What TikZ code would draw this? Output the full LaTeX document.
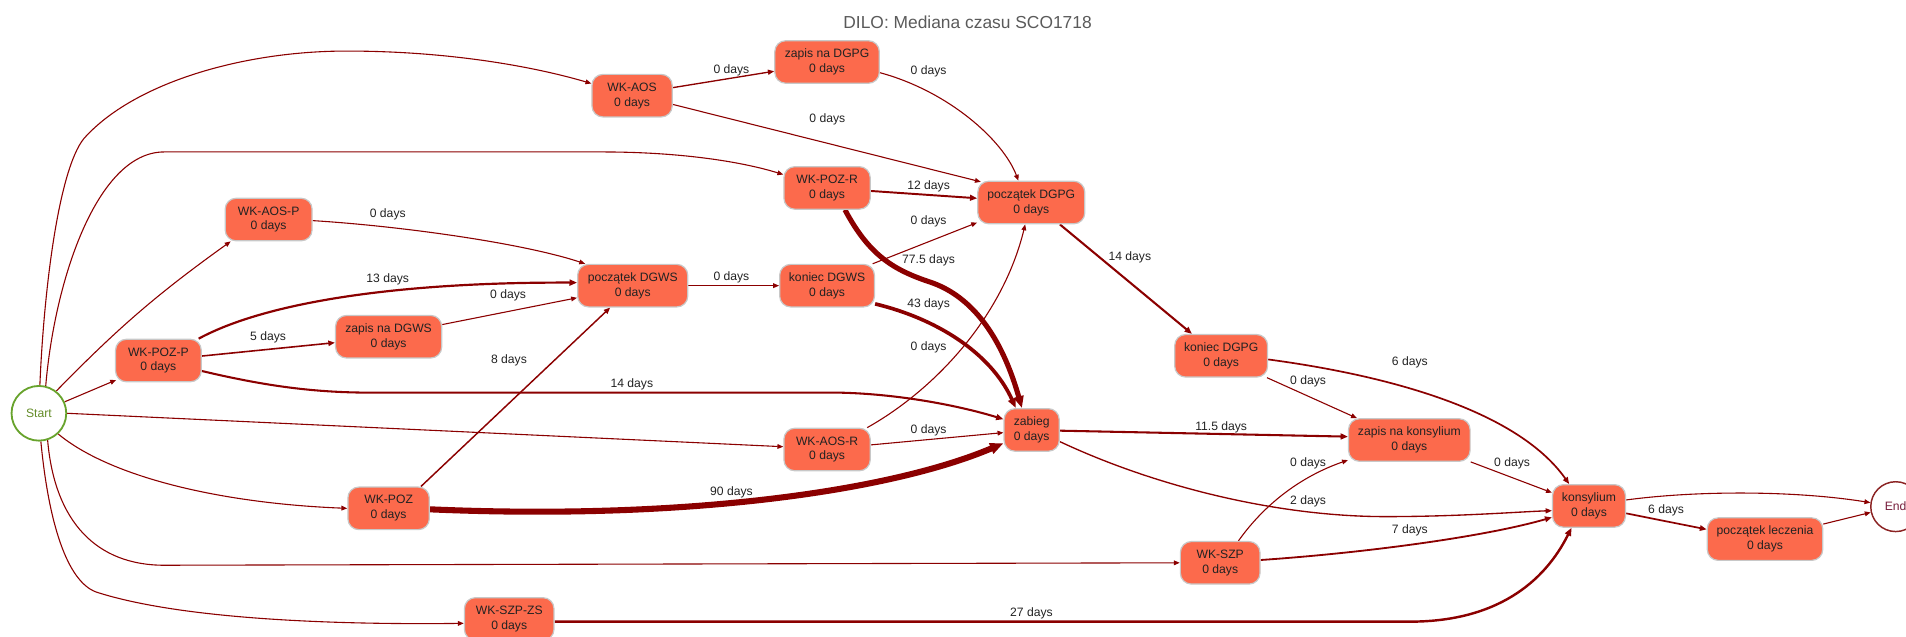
\documentclass[tikz,border=0pt]{standalone}
\usepackage{fontspec}
\setmainfont{Liberation Sans}
\usetikzlibrary{arrows.meta,calc,backgrounds}
\definecolor{nodefill}{RGB}{252,106,76}
\definecolor{nodeborder}{RGB}{200,200,200}
\definecolor{nodetext}{RGB}{34,34,34}
\definecolor{edgecol}{RGB}{139,0,0}
\definecolor{startgreen}{RGB}{104,163,45}
\definecolor{starttext}{RGB}{100,140,40}
\definecolor{endred}{RGB}{139,35,35}
\definecolor{endtext}{RGB}{120,30,60}
\definecolor{titlegray}{RGB}{90,90,90}
\newcommand\nf{\fontsize{10}{12.3}\selectfont}
\begin{document}
\begin{tikzpicture}[x=1pt,y=-1pt,
  proc/.style={rectangle, rounded corners=9pt, fill=nodefill, draw=nodeborder, line width=1pt, minimum height=35pt, inner sep=0pt, align=center, font=\nf, text=nodetext},
  evt/.style={circle, fill=white, inner sep=0pt, font=\nf},
  lbl/.style={font=\nf, text=nodetext, inner sep=1pt},
  edg/.style={draw=edgecol, line width=#1, -{Triangle[length=3.5pt 1.5, width=2.8pt 1.2]}},
]
\useasboundingbox (0,0) rectangle (1568,524);

\node[font=\fontsize{14.3}{16}\selectfont, text=titlegray] (title) at (796,18.5) {DILO: Mediana czasu SCO1718};

\node[proc, minimum width=66pt] (wkaos) at (520,78.7) {WK-AOS\\0 days};
\node[proc, minimum width=86pt] (zdgpg) at (680.4,51) {zapis na DGPG\\0 days};
\node[proc, minimum width=71pt] (wkpozr) at (680.4,154.6) {WK-POZ-R\\0 days};
\node[proc, minimum width=88pt] (pdgpg) at (848.4,166.6) {początek DGPG\\0 days};
\node[proc, minimum width=71.5pt] (wkaosp) at (221,180.6) {WK-AOS-P\\0 days};
\node[proc, minimum width=90.6pt] (pdgws) at (520.5,235) {początek DGWS\\0 days};
\node[proc, minimum width=78pt] (kdgws) at (680.4,235) {koniec DGWS\\0 days};
\node[proc, minimum width=70.5pt] (wkpozp) at (130.3,296.6) {WK-POZ-P\\0 days};
\node[proc, minimum width=87.3pt] (zdgws) at (319.7,277) {zapis na DGWS\\0 days};
\node[proc, minimum width=76.4pt] (kdgpg) at (1004.6,292.7) {koniec DGPG\\0 days};
\node[proc, minimum width=45.4pt] (zabieg) at (848.7,353.7) {zabieg\\0 days};
\node[proc, minimum width=71pt] (wkaosr) at (680.4,369.8) {WK-AOS-R\\0 days};
\node[proc, minimum width=100pt] (zkons) at (1159.4,362) {zapis na konsylium\\0 days};
\node[proc, minimum width=60pt] (kons) at (1307.2,416.2) {konsylium\\0 days};
\node[proc, minimum width=67pt] (wkpoz) at (319.7,418.2) {WK-POZ\\0 days};
\node[proc, minimum width=65.5pt] (wkszp) at (1003.8,463) {WK-SZP\\0 days};
\node[proc, minimum width=95pt] (plecz) at (1452,443.5) {początek leczenia\\0 days};
\node[proc, minimum width=73.7pt] (wkszpzs) at (418.9,509.2) {WK-SZP-ZS\\0 days};
\node[evt, draw=startgreen, line width=1.5pt, minimum size=45pt, text=starttext] (start) at (32,340) {Start};
\node[evt, draw=endred, line width=1.2pt, minimum size=41pt, text=endtext] (end) at (1559.5,416.8) {End};

\begin{scope}[on background layer]
\draw[edg=0.9pt] (start.88) .. controls (36,240) and (48,140) .. (69,114) .. controls (110,68) and (200,42) .. (285,42) .. controls (370,42) and (440,55) .. ($(wkaos.west)+(0,-10)$);
\draw[edg=0.9pt] (start.76) .. controls (45,230) and (80,125) .. (135,125) -- (495,125) .. controls (560,125) and (610,133) .. ($(wkpozr.west)+(0,-11)$);
\draw[edg=0.9pt] (start.52) to[bend left=5] ($(wkaosp.south west)+(5,0)$);
\draw[edg=0.9pt] (start.24) -- ($(wkpozp.south west)+(1,-2)$);
\draw[edg=0.9pt] (start.east) -- ($(wkaosr.west)+(0,-2.3)$);
\draw[edg=0.9pt] (start.-47) .. controls (90,392) and (180,414) .. (wkpoz.west);
\draw[edg=0.9pt] (start.-72) .. controls (45,430) and (80,465) .. (135,465) -- (wkszp.west);
\draw[edg=0.9pt] (start.-86) .. controls (40,430) and (55,478) .. (79,487) .. controls (150,510) and (280,514) .. ($(wkszpzs.west)+(0,3.6)$);

\draw[edg=1.1pt] ($(wkaos.east)+(0,-6.6)$) -- ($(zdgpg.west)+(0,7.6)$);
\draw[edg=0.9pt] ($(wkaos.east)+(0,7.2)$) -- ($(pdgpg.north west)+(3,1)$);
\draw[edg=0.9pt] ($(zdgpg.east)+(0,8.8)$) .. controls (780,75) and (825,115) .. ($(pdgpg.north)+(-10.6,0)$);
\draw[edg=1.6pt] ($(wkpozr.east)+(0,2.5)$) -- ($(pdgpg.west)+(0,-3.5)$);
\draw[edg=4.2pt] ($(wkpozr.south)+(14.7,0)$) .. controls (715,210) and (735,222) .. (765,232) .. controls (795,242) and (822,270) .. ($(zabieg.north)+(-8,0)$);
\draw[edg=0.9pt] ($(wkaosp.east)+(0,0.9)$) .. controls (330,186) and (430,200) .. ($(pdgws.north west)+(6.7,0)$);
\draw[edg=1.8pt] ($(wkpozp.north east)+(-2.6,0)$) .. controls (220,248) and (330,232) .. ($(pdgws.west)+(0,-2.5)$);
\draw[edg=1.3pt] ($(wkpozp.east)+(0,-3.7)$) -- ($(zdgws.west)+(0,4.9)$);
\draw[edg=1.7pt] ($(wkpozp.east)+(0,8.6)$) .. controls (220,318) and (260,323) .. (305,323) -- (690,323) .. controls (740,324) and (790,334) .. ($(zabieg.west)+(0,-8.8)$);
\draw[edg=0.9pt] ($(zdgws.east)+(0,-10)$) -- ($(pdgws.west)+(0,10)$);
\draw[edg=1.2pt] ($(wkpoz.north east)+(-7.4,0)$) -- ($(pdgws.south)+(-18.5,0)$);
\draw[edg=5pt] ($(wkpoz.east)+(0,0.8)$) .. controls (560,428) and (730,405) .. ($(zabieg.west)+(0,11)$);
\draw[edg=0.9pt] (pdgws.east) -- (kdgws.west);
\draw[edg=0.9pt] ($(kdgws.north east)+(-2,0)$) -- ($(pdgpg.south west)+(0,-1.5)$);
\draw[edg=3pt] ($(kdgws.south east)+(0,-3)$) .. controls (770,262) and (815,290) .. ($(zabieg.north)+(-13,0)$);
\draw[edg=0.9pt] ($(wkaosr.north east)+(-3,0)$) .. controls (770,320) and (825,260) .. ($(pdgpg.south)+(-5,0)$);
\draw[edg=0.9pt] ($(wkaosr.east)+(0,-3.8)$) -- ($(zabieg.west)+(0,2.2)$);
\draw[edg=1.7pt] ($(pdgpg.south east)+(-21,0)$) -- ($(kdgpg.north)+(-24,0)$);
\draw[edg=0.9pt] ($(kdgpg.south east)+(-1,0)$) -- ($(zkons.north west)+(7.4,0)$);
\draw[edg=1.4pt] ($(kdgpg.east)+(0,3)$) .. controls (1150,310) and (1250,340) .. ($(kons.north)+(-16.3,0)$);
\draw[edg=1.7pt] ($(zabieg.east)+(0,0.6)$) -- ($(zkons.west)+(0,-2.8)$);
\draw[edg=1.1pt] ($(zabieg.east)+(0,9.6)$) .. controls (950,400) and (1050,425) .. (1140,425) .. controls (1200,425) and (1250,421) .. ($(kons.west)+(0,3.9)$);
\draw[edg=0.9pt] ($(wkszp.north)+(15,0)$) .. controls (1040,415) and (1070,392) .. ($(zkons.south west)+(0,-1.5)$);
\draw[edg=1.5pt] ($(wkszp.east)+(0,-2.3)$) .. controls (1120,455) and (1220,442) .. ($(kons.west)+(0,9.4)$);
\draw[edg=2pt] ($(wkszpzs.east)+(0,2.2)$) -- (1160,511.4) .. controls (1230,511.4) and (1270,480) .. ($(kons.south)+(-14.4,0)$);
\draw[edg=0.9pt] (zkons.south east) -- ($(kons.west)+(0,-10.9)$);
\draw[edg=0.9pt] ($(kons.east)+(0,-4.9)$) .. controls (1400,403) and (1480,404) .. (end.171);
\draw[edg=1.4pt] ($(kons.east)+(0,6.1)$) -- ($(plecz.west)+(0,-8)$);
\draw[edg=0.9pt] ($(plecz.east)+(0,-12.4)$) -- (end.193);
\end{scope}

\node[lbl] (l1) at (601.7,57.6) {0 days};
\node[lbl] (l2) at (763.9,58.7) {0 days};
\node[lbl] (l3) at (680.6,98.2) {0 days};
\node[lbl] (l4) at (763.9,153) {12 days};
\node[lbl] (l5) at (763.9,182.3) {0 days};
\node[lbl] (l6) at (763.9,214.4) {77.5 days};
\node[lbl] (l7) at (319,176) {0 days};
\node[lbl] (l8) at (319,229.8) {13 days};
\node[lbl] (l9) at (418,243) {0 days};
\node[lbl] (l10) at (601.7,228.4) {0 days};
\node[lbl] (l11) at (763.9,250) {43 days};
\node[lbl] (l12) at (929.5,212) {14 days};
\node[lbl] (l13) at (220.6,277.8) {5 days};
\node[lbl] (l14) at (418.7,296.7) {8 days};
\node[lbl] (l15) at (519.8,316.2) {14 days};
\node[lbl] (l16) at (763.9,285.7) {0 days};
\node[lbl] (l17) at (763.9,353.7) {0 days};
\node[lbl] (l18) at (601.7,405.3) {90 days};
\node[lbl] (l19) at (1004.6,351.5) {11.5 days};
\node[lbl] (l20) at (1159.8,298) {6 days};
\node[lbl] (l21) at (1076.1,313.4) {0 days};
\node[lbl] (l22) at (1076.1,381.2) {0 days};
\node[lbl] (l23) at (1243.9,381.2) {0 days};
\node[lbl] (l24) at (1076.1,412.2) {2 days};
\node[lbl] (l25) at (1159.8,436) {7 days};
\node[lbl] (l26) at (1370.6,419.5) {6 days};
\node[lbl] (l27) at (848.5,504.5) {27 days};
\end{tikzpicture}
\end{document}
